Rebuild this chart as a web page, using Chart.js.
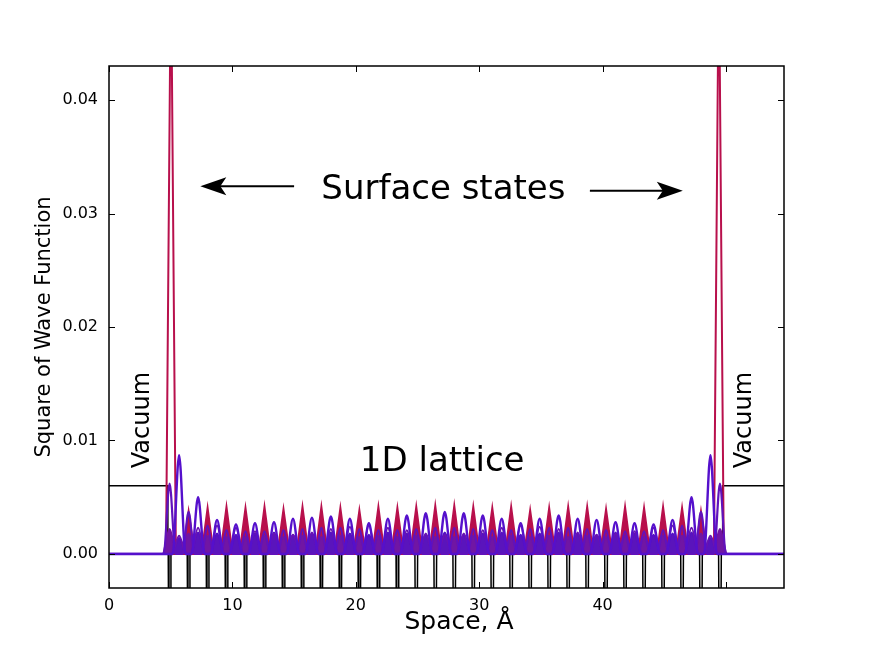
<!DOCTYPE html>
<html>
<head>
<meta charset="utf-8">
<script src="https://cdn.jsdelivr.net/npm/chart.js@4.4.1/dist/chart.umd.min.js"></script>
<style>
  html, body { margin: 0; padding: 0; background: #fff; }
  canvas { display: block; }
</style>
</head>
<body>
<canvas id="wave-chart" width="872" height="654"></canvas>
<script>
// positions of the lattice wells (Å)
var wellX = [4.91, 6.45, 7.99, 9.52, 11.06, 12.60, 14.14, 15.68, 17.21, 18.75,
             20.29, 21.83, 23.37, 24.90, 26.44, 27.98, 29.52, 31.06, 32.59, 34.13,
             35.67, 37.21, 38.75, 40.28, 41.82, 43.36, 44.90, 46.44, 47.97, 49.51];
var vacuumLevel = 0.006;
var vacuumEdge = [4.77, 49.73];
var wellDepth = -0.012;

// surface state: the two tall peaks
var surfaceX = [5.02, 49.42];
var surfaceY = [0.053, 0.053];

// crimson bulk state, one peak on each well
var crimsonWell = [0, 0.0038, 0.0041, 0.0042, 0.0041, 0.0042, 0.0040, 0.0042, 0.0042, 0.0041,
                   0.0039, 0.0042, 0.0041, 0.0042, 0.0043, 0.0043, 0.0042, 0.0041, 0.0042, 0.0039,
                   0.0041, 0.0042, 0.0042, 0.0040, 0.0042, 0.0041, 0.0042, 0.0041, 0.0038, 0];
// purple states peaking between the wells
var purpleMid = [0.0087, 0.0050, 0.0030, 0.0026, 0.0027, 0.0028, 0.0031, 0.0032, 0.0033, 0.0031,
                 0.0027, 0.0031, 0.0034, 0.0036, 0.0037, 0.0036, 0.0034, 0.0031, 0.0027, 0.0031,
                 0.0034, 0.0031, 0.0030, 0.0028, 0.0027, 0.0026, 0.0030, 0.0050, 0.0087];
var violetMid = [0.0016, 0.0023, 0.0025, 0.0023, 0.0020, 0.0018, 0.0017, 0.0019, 0.0022, 0.0024,
                 0.0025, 0.0023, 0.0021, 0.0018, 0.0017, 0.0018, 0.0021, 0.0023, 0.0025, 0.0024,
                 0.0022, 0.0019, 0.0017, 0.0018, 0.0020, 0.0023, 0.0025, 0.0023, 0.0016];
var lowMid = [0.0014, 0.0019, 0.0018, 0.0017, 0.0018, 0.0019, 0.0017, 0.0018, 0.0019, 0.0018,
              0.0017, 0.0019, 0.0018, 0.0017, 0.0019, 0.0017, 0.0018, 0.0019, 0.0017, 0.0018,
              0.0019, 0.0018, 0.0017, 0.0019, 0.0018, 0.0017, 0.0018, 0.0019, 0.0014];
// purple states peaking on the wells
var purpleWell = [0.0062, 0.0037, 0.0025, 0.0021, 0.0020, 0.0020, 0.0021, 0.0022, 0.0023, 0.0023,
                  0.0022, 0.0021, 0.0021, 0.0022, 0.0023, 0.0023, 0.0022, 0.0021, 0.0021, 0.0022,
                  0.0023, 0.0023, 0.0022, 0.0021, 0.0020, 0.0020, 0.0021, 0.0025, 0.0037, 0.0062];
var lowWell = [0.0022, 0.0018, 0.0016, 0.0015, 0.0015, 0.0016, 0.0015, 0.0016, 0.0015, 0.0016,
               0.0015, 0.0016, 0.0015, 0.0016, 0.0015, 0.0015, 0.0016, 0.0015, 0.0016, 0.0015,
               0.0016, 0.0015, 0.0016, 0.0015, 0.0016, 0.0015, 0.0016, 0.0016, 0.0018, 0.0022];

var xTicks = [0, 10, 20, 30, 40, 50];
var xTickLabels = ['0', '10', '20', '30', '40', ''];
var yTicks = [0, 0.01, 0.02, 0.03, 0.04];

var xMax = 54.7;
var FONT = '"DejaVu Sans", "Liberation Sans", sans-serif';

// middle points between neighbouring wells
var midX = [];
for (var i = 0; i < wellX.length - 1; i++) midX.push((wellX[i] + wellX[i + 1]) / 2);

function bumps(centers, heights, halfBase) {
    var pts = [{x: 0, y: 0}];
    centers.forEach(function (c, k) {
        if (!heights[k]) return;
        pts.push({x: c - halfBase, y: 0}, {x: c, y: heights[k]}, {x: c + halfBase, y: 0});
    });
    pts.push({x: xMax, y: 0});
    return pts;
}

function potential() {
    var pts = [{x: 0, y: vacuumLevel}, {x: vacuumEdge[0], y: vacuumLevel}, {x: vacuumEdge[0], y: 0}];
    wellX.forEach(function (w) {
        pts.push({x: w - 0.11, y: 0}, {x: w - 0.05, y: wellDepth},
                 {x: w + 0.05, y: wellDepth}, {x: w + 0.11, y: 0});
    });
    pts.push({x: vacuumEdge[1], y: 0}, {x: vacuumEdge[1], y: vacuumLevel}, {x: xMax, y: vacuumLevel});
    return pts;
}

function line(data, color, width, extra) {
    var ds = {data: data, borderColor: color, borderWidth: width, fill: false,
              pointRadius: 0, tension: 0, clip: 0};
    for (var k in extra) ds[k] = extra[k];
    return ds;
}

// text and arrows, in data units
var notes = [
    {text: 'Surface states', x: 27.1, y: 0.0321, size: 34, rot: 0},
    {text: '1D lattice', x: 27.0, y: 0.0081, size: 34, rot: 0},
    {text: 'Vacuum', x: 2.7, y: 0.0118, size: 24, rot: -Math.PI / 2},
    {text: 'Vacuum', x: 51.5, y: 0.0118, size: 24, rot: -Math.PI / 2}
];
var arrows = [
    {x0: 15.0, x1: 7.4, y: 0.0324},
    {x0: 38.97, x1: 46.5, y: 0.0320}
];

var decor = {
    id: 'decor',
    afterDatasetsDraw: function (chart) {
        var ctx = chart.ctx, xs = chart.scales.x, ys = chart.scales.y, a = chart.chartArea;
        ctx.save();
        ctx.strokeStyle = '#000';
        ctx.fillStyle = '#000';
        ctx.lineWidth = 1.5;
        ctx.strokeRect(a.left, a.top, a.right - a.left, a.bottom - a.top);

        // ticks pointing inwards on all four sides
        ctx.lineWidth = 1;
        ctx.beginPath();
        xTicks.forEach(function (v) {
            var px = Math.round(xs.getPixelForValue(v)) + 0.5;
            ctx.moveTo(px, a.bottom); ctx.lineTo(px, a.bottom - 6);
            ctx.moveTo(px, a.top); ctx.lineTo(px, a.top + 6);
        });
        yTicks.forEach(function (v) {
            var py = Math.round(ys.getPixelForValue(v)) + 0.5;
            ctx.moveTo(a.left, py); ctx.lineTo(a.left + 6, py);
            ctx.moveTo(a.right, py); ctx.lineTo(a.right - 6, py);
        });
        ctx.stroke();

        notes.forEach(function (n) {
            ctx.save();
            ctx.translate(xs.getPixelForValue(n.x), ys.getPixelForValue(n.y));
            ctx.rotate(n.rot);
            ctx.font = n.size + 'px ' + FONT;
            ctx.textAlign = 'center';
            ctx.textBaseline = 'middle';
            ctx.fillText(n.text, 0, 0);
            ctx.restore();
        });

        arrows.forEach(function (ar) {
            var p0 = xs.getPixelForValue(ar.x0), p1 = xs.getPixelForValue(ar.x1), py = ys.getPixelForValue(ar.y);
            var dir = p1 > p0 ? 1 : -1;
            ctx.lineWidth = 2;
            ctx.beginPath();
            ctx.moveTo(p0, py); ctx.lineTo(p1 - dir * 18, py);
            ctx.stroke();
            ctx.beginPath();
            ctx.moveTo(p1, py);
            ctx.lineTo(p1 - dir * 26, py - 9);
            ctx.lineTo(p1 - dir * 20, py);
            ctx.lineTo(p1 - dir * 26, py + 9);
            ctx.closePath();
            ctx.fill();
        });
        ctx.restore();
    }
};

var datasets = [];
datasets.push(line(bumps(midX, purpleMid, 0.52), '#5510cc', 2.4, {cubicInterpolationMode: 'monotone'}));
datasets.push(line(bumps(wellX, purpleWell, 0.48), '#6012bc', 2.2, {cubicInterpolationMode: 'monotone'}));
datasets.push(line(bumps(midX, violetMid, 0.58), '#6a14b0', 2, {cubicInterpolationMode: 'monotone'}));
datasets.push(line(bumps(midX, lowMid, 0.62), '#5410c4', 2,
    {cubicInterpolationMode: 'monotone', fill: 'origin', backgroundColor: '#5a14bc'}));
datasets.push(line(bumps(wellX, lowWell, 0.58), '#7414a0', 2,
    {cubicInterpolationMode: 'monotone', fill: 'origin', backgroundColor: '#7016a4'}));
datasets.push(line(bumps(wellX, crimsonWell, 0.5), '#b8104c', 1.8,
    {fill: 'origin', backgroundColor: '#b8104c'}));
datasets.push(line(bumps(surfaceX, surfaceY, 0.4), '#b8104c', 2));
datasets.push(line(potential(), '#000', 1.5));

new Chart(document.getElementById('wave-chart'), {
    type: 'line',
    data: {datasets: datasets},
    plugins: [decor],
    options: {
        responsive: false,
        animation: false,
        layout: {padding: {left: 0, right: 88, top: 66, bottom: 0}},
        plugins: {legend: {display: false}, tooltip: {enabled: false}},
        scales: {
            x: {
                type: 'linear', min: 0, max: xMax,
                grid: {display: false, drawTicks: false},
                border: {display: false},
                afterBuildTicks: function (s) { s.ticks = xTicks.map(function (v) { return {value: v}; }); },
                afterFit: function (s) { s.height = 66; },
                ticks: {
                    autoSkip: false, maxRotation: 0, padding: 8, color: '#000',
                    font: {family: FONT, size: 16},
                    callback: function (v, i) { return xTickLabels[i]; }
                },
                title: {display: true, text: '\u2002\u2002Space, Å', color: '#000',
                        font: {family: FONT, size: 25}, padding: {top: 0, bottom: 17}}
            },
            y: {
                min: -0.003, max: 0.043,
                grid: {display: false, drawTicks: false},
                border: {display: false},
                afterBuildTicks: function (s) { s.ticks = yTicks.map(function (v) { return {value: v}; }); },
                afterFit: function (s) { s.width = 109; },
                ticks: {
                    padding: 11, color: '#000',
                    font: {family: FONT, size: 16},
                    callback: function (v) { return v.toFixed(2); }
                },
                title: {display: true, text: 'Square of Wave Function', color: '#000',
                        font: {family: FONT, size: 21}, padding: {top: 32, bottom: 0}}
            }
        }
    }
});
</script>
</body>
</html>
